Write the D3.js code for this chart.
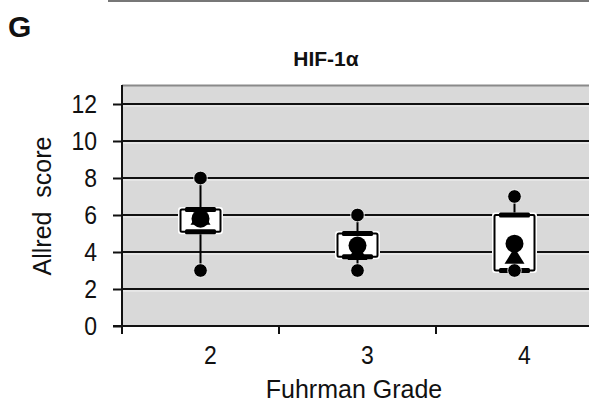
<!DOCTYPE html>
<html>
<head>
<meta charset="utf-8">
<script src="https://cdn.jsdelivr.net/npm/d3@7"></script>
<style>
  body { margin: 0; background: #fff; }
  text { font-family: Arial, "Liberation Sans", sans-serif; fill: #111; }
</style>
</head>
<body>
<svg id="chart" width="589" height="406"></svg>
<script>
const width = 589;
const height = 406;

// --- Data ---
const grades = ["2", "3", "4"];
const minVals = [3, 3, 3];
const maxVals = [8, 6, 7];
const q1Vals = [5.1, 3.75, 3];
const q3Vals = [6.3, 5, 6];
const meanVals = [5.8, 4.35, 4.45];
const medianVals = [5.9, 4, 3.8];
const yTicks = [0, 2, 4, 6, 8, 10, 12];

const rows = grades.map((g, i) => ({
  grade: g, min: minVals[i], max: maxVals[i],
  q1: q1Vals[i], q3: q3Vals[i], mean: meanVals[i], median: medianVals[i]
}));

const svg = d3.select("#chart").attr("viewBox", [0, 0, width, height]);

// --- Scales ---
const x = d3.scaleBand().domain(grades).range([122, 593]).padding(0);
const y = d3.scaleLinear().domain([0, 12]).range([326, 104]);
const plotTop = 85;

// --- Panel frame bits ---
svg.append("line")
  .attr("x1", 108).attr("x2", width).attr("y1", 1).attr("y2", 1)
  .attr("stroke", "#777").attr("stroke-width", 2);

svg.append("text")
  .attr("x", 8).attr("y", 37)
  .attr("font-size", 30).attr("font-weight", "bold")
  .text("G");

svg.append("text")
  .attr("x", 326).attr("y", 66)
  .attr("text-anchor", "middle")
  .attr("font-size", 21).attr("font-weight", "bold")
  .text("HIF-1α");

// --- Plot background ---
svg.append("rect")
  .attr("x", 122).attr("y", plotTop)
  .attr("width", width - 122).attr("height", y(0) - plotTop)
  .attr("fill", "#d9d9d9");

svg.append("line")
  .attr("x1", 122).attr("x2", width).attr("y1", plotTop + 0.5).attr("y2", plotTop + 0.5)
  .attr("stroke", "#8a8a8a").attr("stroke-width", 2);

// --- Gridlines ---
const gGrid = svg.append("g");
gGrid.selectAll(".hl")
  .data(yTicks.filter(d => d > 0))
  .join("line")
  .attr("class", "hl")
  .attr("x1", 123).attr("x2", width)
  .attr("y1", d => y(d) + 2).attr("y2", d => y(d) + 2)
  .attr("stroke", "#f2f2f2").attr("stroke-width", 1);
gGrid.selectAll(".grid")
  .data(yTicks.filter(d => d > 0))
  .join("line")
  .attr("class", "grid")
  .attr("x1", 122).attr("x2", width)
  .attr("y1", d => y(d)).attr("y2", d => y(d))
  .attr("stroke", "#111").attr("stroke-width", 2);

// --- Axes ---
const gY = svg.append("g")
  .attr("transform", "translate(122,0)")
  .call(d3.axisLeft(y).tickValues(yTicks).tickSize(9).tickSizeOuter(0).tickPadding(16));
gY.select(".domain").remove();
gY.selectAll(".tick line").attr("stroke", "#111").attr("stroke-width", 2);
gY.selectAll(".tick text")
  .attr("font-size", 23)
  .attr("font-family", "Arial, 'Liberation Sans', sans-serif")
  .attr("fill", "#111")
  .attr("dy", null)
  .attr("dominant-baseline", "central")
  .attr("transform", "scale(1,1.1)");

svg.append("line")
  .attr("x1", 122).attr("x2", 122).attr("y1", plotTop).attr("y2", 334)
  .attr("stroke", "#111").attr("stroke-width", 2);

svg.append("line")
  .attr("x1", 113).attr("x2", width).attr("y1", y(0)).attr("y2", y(0))
  .attr("stroke", "#111").attr("stroke-width", 2);

svg.append("g").selectAll("line")
  .data(grades)
  .join("line")
  .attr("x1", d => x(d)).attr("x2", d => x(d))
  .attr("y1", y(0)).attr("y2", y(0) + 8)
  .attr("stroke", "#111").attr("stroke-width", 2);

svg.append("g").selectAll("text")
  .data(grades)
  .join("text")
  .attr("text-anchor", "middle")
  .attr("font-size", 23)
  .attr("transform", d => `translate(${x(d) + x.bandwidth() / 2 + 10},364) scale(1,1.1)`)
  .text(d => d);

svg.append("text")
  .attr("x", 354).attr("y", 398)
  .attr("text-anchor", "middle")
  .attr("font-size", 25)
  .text("Fuhrman Grade");

svg.append("text")
  .attr("transform", "translate(51,206) rotate(-90)")
  .attr("text-anchor", "middle")
  .attr("font-size", 25)
  .style("white-space", "pre")
  .text("Allred  score");

// --- Box plots ---
const cx = d => x(d.grade) + x.bandwidth() / 2;
const boxW = 40;
const barW = 31;
const gBox = svg.append("g");

// whiskers
gBox.selectAll(".whisker")
  .data(rows)
  .join("line")
  .attr("class", "whisker")
  .attr("x1", cx).attr("x2", cx)
  .attr("y1", d => y(d.max)).attr("y2", d => y(d.min))
  .attr("stroke", "#000").attr("stroke-width", 2);

// box halo + box
gBox.selectAll(".halo")
  .data(rows)
  .join("rect")
  .attr("class", "halo")
  .attr("x", d => cx(d) - boxW / 2 - 1.5)
  .attr("y", d => y(d.q3) - 1.5)
  .attr("width", boxW + 3)
  .attr("height", d => y(d.q1) - y(d.q3) + 3)
  .attr("rx", 2)
  .attr("fill", "none").attr("stroke", "#fff").attr("stroke-width", 2);

gBox.selectAll(".box")
  .data(rows)
  .join("rect")
  .attr("class", "box")
  .attr("x", d => cx(d) - boxW / 2)
  .attr("y", d => y(d.q3))
  .attr("width", boxW)
  .attr("height", d => y(d.q1) - y(d.q3))
  .attr("rx", 1.5)
  .attr("fill", "#fff").attr("stroke", "#000").attr("stroke-width", 2);

// quartile bars
["q1", "q3"].forEach(k => {
  gBox.selectAll(".bar-" + k)
    .data(rows)
    .join("rect")
    .attr("class", "bar-" + k)
    .attr("x", d => cx(d) - barW / 2)
    .attr("y", d => y(d[k]) - 2.5)
    .attr("width", barW).attr("height", 5)
    .attr("rx", 1.5)
    .attr("fill", "#000");
});

// min / max dots
["min", "max"].forEach(k => {
  gBox.selectAll(".dot-" + k)
    .data(rows)
    .join("circle")
    .attr("class", "dot-" + k)
    .attr("cx", cx)
    .attr("cy", d => y(d[k]))
    .attr("r", 6.8)
    .attr("fill", "#000").attr("stroke", "#fff").attr("stroke-width", 0.8);
});

// median triangles
const triW = 20, triH = 16;
gBox.selectAll(".median")
  .data(rows)
  .join("path")
  .attr("class", "median")
  .attr("d", d => {
    const c = cx(d), m = y(d.median);
    return `M${c},${m - triH / 2}L${c + triW / 2},${m + triH / 2}L${c - triW / 2},${m + triH / 2}Z`;
  })
  .attr("fill", "#000");

// mean circles
gBox.selectAll(".mean")
  .data(rows)
  .join("circle")
  .attr("class", "mean")
  .attr("cx", cx)
  .attr("cy", d => y(d.mean))
  .attr("r", 9)
  .attr("fill", "#000");
</script>
</body>
</html>
